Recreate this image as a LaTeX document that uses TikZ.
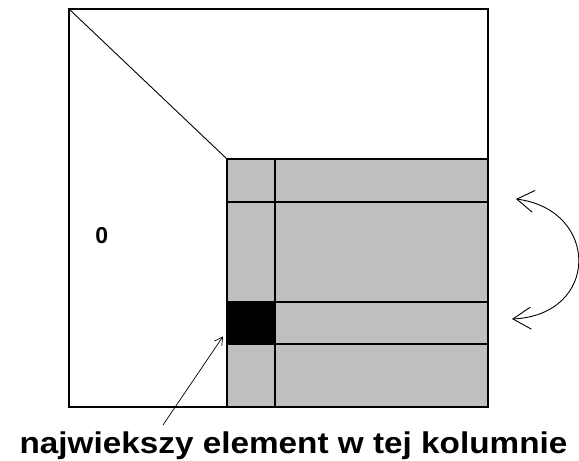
\documentclass[tikz,border=0pt]{standalone}
\usepackage{graphicx}
\usepackage{fontspec}
\setmainfont{Liberation Sans}
\usetikzlibrary{arrows.meta,calc}

\begin{document}
\begin{tikzpicture}[x=1pt,y=-1pt,line width=1.4pt]

\useasboundingbox (0,0) rectangle (579,461);

% Gray submatrix
\fill[gray!50] (227,159) rectangle (488,407);

% Largest element
\node[fill=black,inner sep=0pt,minimum width=48pt,minimum height=42pt,anchor=north west] (maxel) at (227,302) {};

% Grid lines
\draw (275,159)--(275,407);
\draw (227,202)--(488,202);
\draw (227,302)--(488,302);
\draw (227,344)--(488,344);
\draw (227,159)--(488,159);
\draw (227,159)--(227,407);

% Outer square
\draw (69,9) rectangle (488,407);

% Diagonal
\draw[line width=0.9pt] (69,9)--(227,159);

% Zero part
\node[font=\bfseries\fontsize{23}{23}\selectfont,inner sep=0pt] (zero) at (101.7,236) {0};

% Label
\node[font=\bfseries\fontsize{30}{30}\selectfont,inner sep=0pt,anchor=base] (lbl) at (293.5,453) {\scalebox{1.11}[1]{najwiekszy element w tej kolumnie}};

% Pointer
\coordinate (tail) at (163,425);
\draw[-{Straight Barb[length=8pt,width=9pt]},line width=0.7pt] (tail)--($(maxel.south west)+(-4,-9)$);

% Row swap
\draw[{Straight Barb[length=17pt,width=22pt]}-{Straight Barb[length=18pt,width=22pt]},line width=0.9pt]
(516,199) .. controls (600,210) and (600,315) .. (512,319);

\end{tikzpicture}
\end{document}
